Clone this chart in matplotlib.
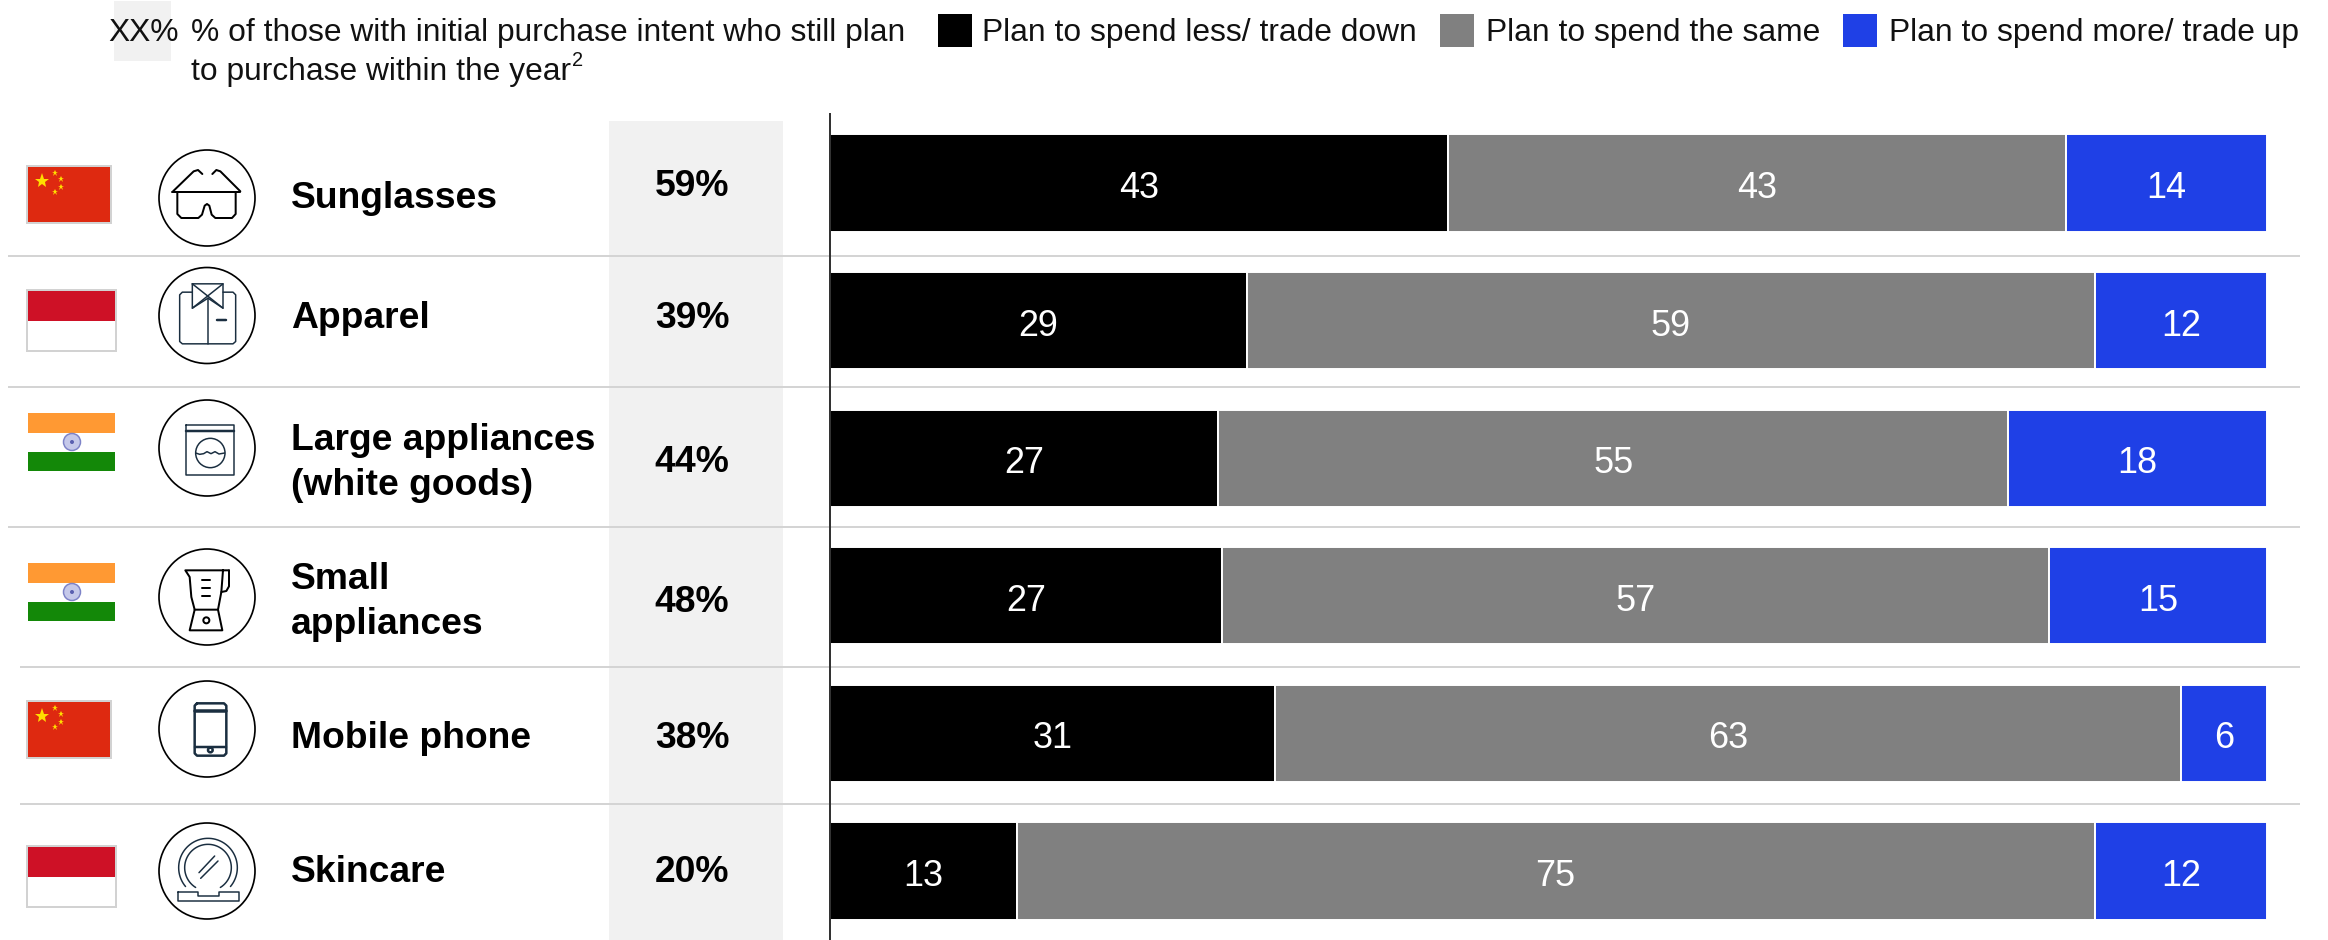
# stacked bars of spending plans by product category, with flag and icon columns
import numpy as np
import matplotlib
matplotlib.use('Agg')
import matplotlib.pyplot as plt
from matplotlib.patches import Rectangle, Circle

plt.rcParams['font.family'] = ['Liberation Sans', 'DejaVu Sans']

# data
categories = ['Sunglasses', 'Apparel', 'Large appliances\n(white goods)', 'Small\nappliances', 'Mobile phone', 'Skincare']
countries = ['china', 'indonesia', 'india', 'india', 'china', 'indonesia']
still_plan = [59, 39, 44, 48, 38, 20]
spend_less = [43, 29, 27, 27, 31, 13]
spend_same = [43, 59, 55, 57, 63, 75]
spend_more = [14, 12, 18, 15, 6, 12]
series_names = ['Plan to spend less/ trade down', 'Plan to spend the same', 'Plan to spend more/ trade up']

BLACK, GREY, BLUE = '#000000', '#808080', '#1F40E6'
NAVY = '#1A2E40'
PANEL = '#F1F1F1'
RULE = '#D4D4D4'
PX = 0.72  # points per pixel at dpi 100
LEGEND_FS = 31.8 * PX

fig = plt.figure(figsize=(23.28, 9.4), dpi=100)

# full-figure layer in pixel coords for everything that isn't a bar
bg = fig.add_axes([0, 0, 1, 1])
bg.set_xlim(0, 2328)
bg.set_ylim(940, 0)
bg.axis('off')

# grey column behind the percentages
bg.add_patch(Rectangle((609, 121), 174, 819, fc=PANEL, ec='none'))

# row rules
for y, x0 in zip([256, 387, 527, 667, 804], [8, 8, 8, 20, 20]):
    bg.plot([x0, 2300], [y, y], color=RULE, lw=2 * PX, solid_capstyle='butt')

# legend, left part
bg.add_patch(Rectangle((114, 1), 57, 60, fc=PANEL, ec='none'))
bg.text(108, 33, 'XX%', fontsize=LEGEND_FS, va='center', ha='left', color='#111111')
bg.text(191, 33, '% of those with initial purchase intent who still plan', fontsize=LEGEND_FS, va='center', color='#111111')
line2 = bg.text(191, 72, 'to purchase within the year', fontsize=LEGEND_FS, va='center', color='#111111')
# footnote mark goes right after the second line
line2_end = line2.get_window_extent(fig.canvas.get_renderer()).x1
bg.text(line2_end + 1, 60, '2', fontsize=20 * PX, va='center', ha='left', color='#111111')

# legend, series keys
for name, col, sx, tx in zip(series_names, [BLACK, GREY, BLUE], [938, 1440, 1843], [982, 1486, 1889]):
    bg.add_patch(Rectangle((sx, 14), 34, 33, fc=col, ec='none'))
    bg.text(tx, 33, name, fontsize=LEGEND_FS, va='center', color='#111111')


# flags
def draw_china(top):
    bg.add_patch(Rectangle((27, top), 84, 57, fc='#DE2910', ec='#D2D2D2', lw=2 * PX))
    bg.plot([42], [top + 15], marker='*', ms=11, color='#FFDE00', mew=0)
    for dx, dy in [(55, 7), (61, 13), (61, 21), (55, 26)]:
        bg.plot([dx], [top + dy], marker='*', ms=4.5, color='#FFDE00', mew=0)


def draw_indonesia(top):
    bg.add_patch(Rectangle((27, top), 89, 61, fc='white', ec='#D2D2D2', lw=2 * PX))
    bg.add_patch(Rectangle((28, top + 1), 87, 30, fc='#CE1126', ec='none'))


def draw_india(top):
    bg.add_patch(Rectangle((28, top), 87, 20, fc='#FF9933', ec='none'))
    bg.add_patch(Rectangle((28, top + 39), 87, 19, fc='#138808', ec='none'))
    bg.add_patch(Circle((72, top + 29), 8.5, fc='#C5C8EA', ec='#7E83C8', lw=1.5 * PX))
    bg.add_patch(Circle((72, top + 29), 2, fc='#5A5FB0', ec='none'))


flag_tops = [166, 290, 413, 563, 701, 846]
flag_funcs = {'china': draw_china, 'indonesia': draw_indonesia, 'india': draw_india}
for country, top in zip(countries, flag_tops):
    flag_funcs[country](top)


# icon outlines are written in 1/3 pixel steps around the circle centre
def stroke(cx, cy, pts, origin, color=NAVY, lw=1.5):
    pts = np.array(pts, dtype=float)
    xs = cx + (pts[:, 0] - origin[0]) / 3
    ys = cy + (pts[:, 1] - origin[1]) / 3
    bg.plot(xs, ys, color=color, lw=lw * PX, solid_joinstyle='round', solid_capstyle='round')


def ring(cx, cy, at, r, origin, color=NAVY, lw=1.5):
    bg.add_patch(Circle((cx + (at[0] - origin[0]) / 3, cy + (at[1] - origin[1]) / 3), r / 3,
                        fc='none', ec=color, lw=lw * PX))


def arc(cx, cy, at, r, a0, a1, origin, lw=1.5):
    t = np.radians(np.linspace(a0, a1, 60))
    stroke(cx, cy, np.c_[at[0] + r * np.cos(t), at[1] + r * np.sin(t)], origin, lw=lw)


def icon_glasses(cx, cy):
    o = (202, 235)
    stroke(cx, cy, [(100, 215), (162, 155), (175, 151), (188, 163)], o, 'black', 2)
    stroke(cx, cy, [(218, 163), (230, 151), (242, 155), (302, 215)], o, 'black', 2)
    stroke(cx, cy, [(97, 217), (302, 217)], o, 'black', 2)
    stroke(cx, cy, [(113, 217), (113, 283), (125, 295), (176, 295), (187, 285), (195, 258), (202, 253),
                    (209, 258), (216, 285), (227, 295), (277, 295), (288, 283), (288, 217)], o, 'black', 2)


def icon_shirt(cx, cy):
    o = (202, 587)
    stroke(cx, cy, [(158, 517), (128, 517), (120, 525), (120, 665), (128, 672), (280, 672), (288, 665),
                    (288, 525), (280, 517), (250, 517)], o)
    stroke(cx, cy, [(158, 492), (250, 492), (250, 565), (205, 535), (158, 565), (158, 492)], o)
    stroke(cx, cy, [(158, 492), (250, 565)], o)
    stroke(cx, cy, [(250, 492), (158, 565)], o)
    stroke(cx, cy, [(205, 535), (205, 672)], o)
    stroke(cx, cy, [(232, 600), (260, 600)], o, lw=2.5)


def icon_washer(cx, cy):
    o = (202, 203)
    stroke(cx, cy, [(140, 133), (284, 133), (284, 285), (140, 285), (140, 133)], o)
    stroke(cx, cy, [(140, 153), (284, 153)], o, lw=2.5)
    ring(cx, cy, (212, 218), 44, o)
    stroke(cx, cy, [(168, 218), (180, 222), (192, 220), (202, 214), (214, 220), (226, 214), (238, 221), (255, 218)], o)


def icon_blender(cx, cy):
    o = (202, 650)
    stroke(cx, cy, [(268, 570), (137, 570), (150, 590), (155, 650), (165, 688), (235, 688), (245, 635), (250, 570)], o, 'black', 2)
    stroke(cx, cy, [(268, 570), (268, 618), (260, 632), (245, 635)], o, 'black', 2)
    stroke(cx, cy, [(165, 688), (150, 750), (248, 750), (235, 688)], o, 'black', 2)
    for y in [600, 623, 647]:
        stroke(cx, cy, [(187, y), (210, y)], o, 'black', 2)
    ring(cx, cy, (200, 720), 9, o, 'black', 2)


def icon_phone(cx, cy):
    o = (202, 205)
    stroke(cx, cy, [(172, 128), (253, 128), (260, 135), (260, 278), (253, 285), (172, 285), (165, 278),
                    (165, 135), (172, 128)], o, lw=2.5)
    stroke(cx, cy, [(165, 150), (260, 150)], o, lw=3.5)
    stroke(cx, cy, [(165, 260), (260, 260)], o, lw=2.5)
    ring(cx, cy, (212, 268), 7, o, lw=2.5)


def icon_mirror(cx, cy):
    o = (202, 635)
    stroke(cx, cy, [(115, 697), (175, 697), (175, 710), (237, 710), (237, 697), (297, 697), (297, 724),
                    (115, 724), (115, 697)], o)
    arc(cx, cy, (205, 625), 88, 140, 400, o)
    arc(cx, cy, (205, 625), 70, 122, 418, o)
    stroke(cx, cy, [(178, 640), (225, 590)], o)
    stroke(cx, cy, [(183, 657), (235, 605)], o)


icon_funcs = [icon_glasses, icon_shirt, icon_washer, icon_blender, icon_phone, icon_mirror]
icon_centres = [198, 315.5, 448, 597, 729, 871]
for draw_icon, cy in zip(icon_funcs, icon_centres):
    bg.add_patch(Circle((207, cy), 48, fc='white', ec='black', lw=1.7 * PX))
    draw_icon(207, cy)

# category names and percentages
name_y = [199, 318, 463, 602, 739, 873]
pct_y = [187, 318, 462, 603, 739, 873]
for name, pct, ny, py in zip(categories, still_plan, name_y, pct_y):
    bg.text(291, ny, name, fontsize=37.3 * PX, fontweight='bold', va='center', ha='left',
            linespacing=1.38, color='black')
    bg.text(692, py, f'{pct}%', fontsize=37.3 * PX, fontweight='bold', va='center', ha='center', color='black')

# bars: each row is scaled to its own total, so all of them fill the width
ax = fig.add_axes([830 / 2328, 0, (2267 - 830) / 2328, 1 - 114 / 940])
ax.patch.set_alpha(0)
rows = np.arange(len(categories))
less, same, more = np.array(spend_less), np.array(spend_same), np.array(spend_more)
total = (less + same + more).astype(float)
left = np.zeros(len(rows))
for vals, col in zip([less, same, more], [BLACK, GREY, BLUE]):
    widths = vals / total * 100
    bars = ax.barh(rows, widths, left=left, height=0.705, color=col, edgecolor='white', linewidth=1.4)
    for rect, v in zip(bars, vals):
        # small nudge down so the digits sit on the bar's optical centre
        ax.annotate(str(v), (rect.get_x() + rect.get_width() / 2, rect.get_y() + rect.get_height() / 2),
                    xytext=(0, -4), textcoords='offset points',
                    color='white', fontsize=36 * PX, ha='center', va='center')
    left += widths

ax.set_xlim(0, 100)
ax.set_ylim((940 - 183) / 137.6, (114 - 183) / 137.6)
ax.set_xticks([])
ax.set_yticks([])
for side in ['top', 'right', 'bottom']:
    ax.spines[side].set_visible(False)
ax.spines['left'].set_color('#333333')
ax.spines['left'].set_linewidth(2 * PX)

fig.savefig('out.png', dpi=100)
